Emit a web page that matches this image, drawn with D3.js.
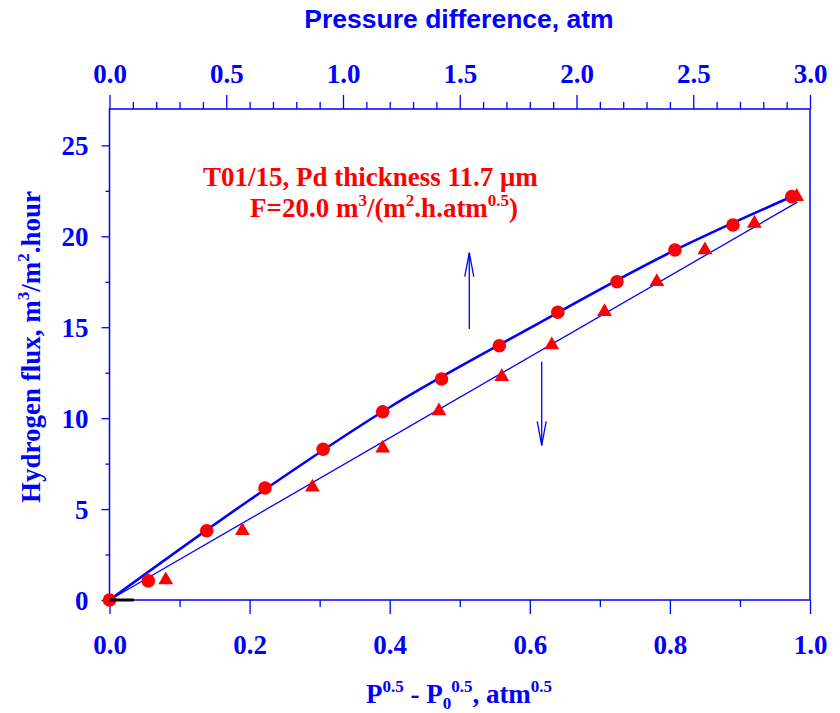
<!DOCTYPE html>
<html>
<head>
<meta charset="utf-8">
<script src="https://cdn.jsdelivr.net/npm/d3@7"></script>
<style>
  body { margin: 0; background: #fff; }
  svg { display: block; }
</style>
</head>
<body>
<svg id="chart" width="840" height="713"></svg>
<script>
// circles: flux vs P^0.5 - P0^0.5 (bottom axis)
const sqrtDiff = [0, 0.0554, 0.1388, 0.222, 0.305, 0.390, 0.474, 0.5565, 0.640, 0.7245, 0.8072, 0.890, 0.974];
const fluxCircles = [0, 1.05, 3.81, 6.16, 8.29, 10.35, 12.15, 13.98, 15.82, 17.5, 19.25, 20.62, 22.18];

// triangles: flux vs pressure difference (top axis)
const pressDiff = [0.241, 0.569, 0.869, 1.17, 1.411, 1.68, 1.894, 2.12, 2.344, 2.55, 2.762, 2.943];
const fluxTriangles = [1.10, 3.81, 6.20, 8.34, 10.39, 12.28, 14.02, 15.85, 17.5, 19.25, 20.71, 22.18];

// fitted curve through the circles (bottom axis units)
const fitCurveX = [0, 0.2, 0.4, 0.6, 0.8, 0.975];
const fitCurveY = [0, 5.5, 10.6, 14.95, 19.1, 22.2];

// straight fit through the triangles (top axis units)
const fitLineX = [0, 2.946];
const fitLineY = [0, 21.88];

// little black stub at origin (bottom axis units)
const stubX = [0, 0.035];
const stubY = [0, 0];

// arrows: [x (bottom units), yFrom, yTo]
const arrows = [
  [0.5136, 14.9, 19.1],
  [0.617, 13.1, 8.5]
];

const xTicks = [0, 0.2, 0.4, 0.6, 0.8, 1.0];
const xMinor = [0.1, 0.3, 0.5, 0.7, 0.9];
const topTicks = [0, 0.5, 1.0, 1.5, 2.0, 2.5, 3.0];
const topMinor = d3.range(0.1, 3.0, 0.1).filter(v => Math.abs(v * 2 - Math.round(v * 2)) > 0.01);
const yTicks = [0, 5, 10, 15, 20, 25];
const yMinor = [2.5, 7.5, 12.5, 17.5, 22.5];

const blue = "#0000ff";
const red = "#ff0000";
const serif = "'Liberation Serif', 'Times New Roman', serif";
const sans = "'Liberation Sans', Arial, sans-serif";

const pLeft = 109.5, pRight = 810, pTop = 109, pBottom = 600;

var svg = d3.select("#chart");

var x = d3.scaleLinear().domain([0, 1]).range([pLeft, pRight]);
var xTop = d3.scaleLinear().domain([0, 3]).range([pLeft, pRight]);
var y = d3.scaleLinear().domain([0, 27]).range([pBottom, pTop]);

function styleAxis(g) {
  g.select(".domain").remove();
  g.selectAll(".tick line").attr("stroke", blue).attr("stroke-width", 1.3);
  g.selectAll(".tick text")
    .attr("fill", blue)
    .style("font-family", serif)
    .style("font-weight", "bold")
    .style("font-size", "27px");
}

// bottom axis
svg.append("g")
  .attr("transform", "translate(0," + pBottom + ")")
  .call(d3.axisBottom(x).tickValues(xTicks).tickSize(14).tickFormat(d3.format(".1f")))
  .call(styleAxis)
  .call(g => g.selectAll(".tick text").attr("y", 54).attr("dy", 0));
svg.append("g")
  .attr("transform", "translate(0," + pBottom + ")")
  .call(d3.axisBottom(x).tickValues(xMinor).tickSize(7).tickFormat(""))
  .call(styleAxis);

// top axis
svg.append("g")
  .attr("transform", "translate(0," + pTop + ")")
  .call(d3.axisTop(xTop).tickValues(topTicks).tickSize(14).tickFormat(d3.format(".1f")))
  .call(styleAxis)
  .call(g => g.selectAll(".tick text").attr("y", -26).attr("dy", 0));
svg.append("g")
  .attr("transform", "translate(0," + pTop + ")")
  .call(d3.axisTop(xTop).tickValues(topMinor).tickSize(7).tickFormat(""))
  .call(styleAxis);

// left axis
svg.append("g")
  .attr("transform", "translate(" + pLeft + ",0)")
  .call(d3.axisLeft(y).tickValues(yTicks).tickSize(8).tickFormat(d3.format("d")))
  .call(styleAxis)
  .call(g => g.selectAll(".tick text").attr("x", -21).attr("dy", "0.34em"));
svg.append("g")
  .attr("transform", "translate(" + pLeft + ",0)")
  .call(d3.axisLeft(y).tickValues(yMinor).tickSize(4).tickFormat(""))
  .call(styleAxis);

// frame
svg.append("rect")
  .attr("x", pLeft).attr("y", pTop)
  .attr("width", pRight - pLeft).attr("height", pBottom - pTop)
  .attr("fill", "none")
  .attr("stroke", blue)
  .attr("stroke-width", 1.5);

// lines
var fitLine = d3.line()
  .x((d, i) => xTop(fitLineX[i]))
  .y((d, i) => y(fitLineY[i]));
svg.append("path")
  .attr("d", fitLine(fitLineX))
  .attr("fill", "none")
  .attr("stroke", blue)
  .attr("stroke-width", 1.3);

var curve = d3.line()
  .x((d, i) => x(fitCurveX[i]))
  .y((d, i) => y(fitCurveY[i]))
  .curve(d3.curveMonotoneX);
svg.append("path")
  .attr("d", curve(fitCurveX))
  .attr("fill", "none")
  .attr("stroke", blue)
  .attr("stroke-width", 2.6);

// arrows
arrows.forEach(a => {
  var ax = x(a[0]), y1 = y(a[1]), y2 = y(a[2]);
  var dir = y2 < y1 ? 1 : -1;
  var g = svg.append("g").attr("stroke", blue).attr("stroke-width", 1.3).attr("fill", "none");
  g.append("line").attr("x1", ax).attr("y1", y1).attr("x2", ax).attr("y2", y2);
  g.append("path").attr("d",
    "M" + (ax - 4.5) + "," + (y2 + dir * 24) + "L" + ax + "," + y2 + "L" + (ax + 4.5) + "," + (y2 + dir * 24));
});

// triangles
var tri = d3.symbol().type(d3.symbolTriangle).size(95);
svg.append("g").selectAll("path")
  .data(pressDiff)
  .join("path")
  .attr("d", tri)
  .attr("transform", (d, i) => "translate(" + xTop(d) + "," + y(fluxTriangles[i]) + ")")
  .attr("fill", red);

// circles
svg.append("g").selectAll("circle")
  .data(sqrtDiff)
  .join("circle")
  .attr("cx", d => x(d))
  .attr("cy", (d, i) => y(fluxCircles[i]))
  .attr("r", 6.8)
  .attr("fill", red);

// stub at origin
svg.append("line")
  .attr("x1", x(stubX[0])).attr("y1", y(stubY[0]))
  .attr("x2", x(stubX[1])).attr("y2", y(stubY[1]))
  .attr("stroke", "#000")
  .attr("stroke-width", 3);

// titles
svg.append("text")
  .attr("x", 459).attr("y", 28)
  .attr("text-anchor", "middle")
  .attr("fill", blue)
  .style("font-family", sans)
  .style("font-weight", "bold")
  .style("font-size", "26.5px")
  .text("Pressure difference, atm");

function richText(sel, parts) {
  parts.forEach(p => {
    var t = sel.append("tspan").text(p.t);
    if (p.sup) t.attr("dy", -11).style("font-size", "17px");
    if (p.sub) t.attr("dy", 6).style("font-size", "17px");
    if (p.back) t.attr("dy", p.back);
  });
}

var ylab = svg.append("text")
  .attr("transform", "translate(40,347) rotate(-90)")
  .attr("text-anchor", "middle")
  .attr("fill", blue)
  .style("font-family", serif)
  .style("font-weight", "bold")
  .style("font-size", "27px");
richText(ylab, [
  { t: "Hydrogen flux, m" }, { t: "3", sup: true }, { t: "/m", back: 11 },
  { t: "2", sup: true }, { t: ".hour", back: 11 }
]);

var xlab = svg.append("text")
  .attr("x", 459).attr("y", 703)
  .attr("text-anchor", "middle")
  .attr("fill", blue)
  .style("font-family", serif)
  .style("font-weight", "bold")
  .style("font-size", "27px");
richText(xlab, [
  { t: "P" }, { t: "0.5", sup: true }, { t: " - P", back: 11 },
  { t: "0", sub: true }, { t: "0.5", sup: true, back: -17 }, { t: ", atm", back: 11 },
  { t: "0.5", sup: true }
]);

var note1 = svg.append("text")
  .attr("x", 203).attr("y", 186)
  .attr("fill", red)
  .style("font-family", serif)
  .style("font-weight", "bold")
  .style("font-size", "27px")
  .text("T01/15, Pd thickness 11.7 \u03bcm");

var note2 = svg.append("text")
  .attr("x", 250).attr("y", 217)
  .attr("fill", red)
  .style("font-family", serif)
  .style("font-weight", "bold")
  .style("font-size", "27px");
richText(note2, [
  { t: "F=20.0 m" }, { t: "3", sup: true }, { t: "/(m", back: 11 },
  { t: "2", sup: true }, { t: ".h.atm", back: 11 }, { t: "0.5", sup: true }, { t: ")", back: 11 }
]);
</script>
</body>
</html>
